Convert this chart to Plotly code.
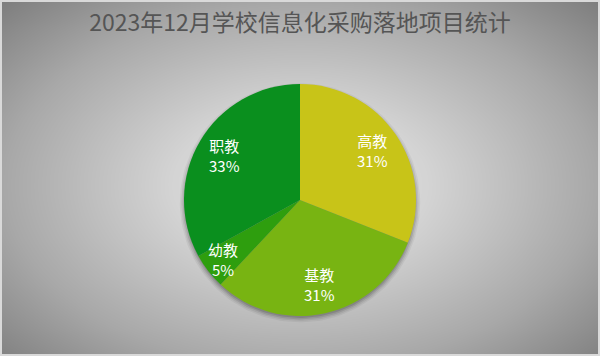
import numpy as np
import plotly.graph_objects as go

title = "2023年12月学校信息化采购落地项目统计"
labels = ["高教", "基教", "幼教", "职教"]
values = [31, 31, 5, 33]
colors = ["#c8c418", "#78b412", "#2e9e0e", "#0a8f1e"]

W, H = 600, 356
cx, cy, R = 300, 200, 116

# background radial gradient (decorative)
xs = np.linspace(0, W, 121)
ys = np.linspace(0, H, 73)
X, Y = np.meshgrid(xs, ys)
D = np.sqrt(((X - 300) / 300) ** 2 + ((Y - 185) / 185) ** 2) / np.sqrt(2)
D = np.clip(D, 0, 1)

fig = go.Figure()
fig.add_trace(go.Heatmap(
    x=xs, y=ys, z=D, zmin=0, zmax=1, zsmooth="best", showscale=False,
    colorscale=[[0, "#e2e2e2"], [0.3, "#d4d4d4"], [0.7, "#a8a8a8"], [1, "#7e7e7e"]],
    hoverinfo="skip"))

# soft shadow beneath the pie
th = np.linspace(0, 2 * np.pi, 200)
for k, a in [(5, 0.05), (3.5, 0.07), (2, 0.1), (0.5, 0.12)]:
    fig.add_trace(go.Scatter(
        x=cx + (R + k) * np.cos(th), y=cy + 3 + (R + k) * np.sin(th),
        fill="toself", fillcolor=f"rgba(0,0,0,{a})", line=dict(width=0),
        mode="lines", hoverinfo="skip", showlegend=False))

dom_h = R / H
yc = (H - cy) / H
fig.add_trace(go.Pie(
    labels=labels, values=values, sort=False, direction="clockwise", rotation=0,
    marker=dict(colors=colors, line=dict(width=0)),
    textinfo="none",
    domain=dict(x=[0, 1], y=[yc - dom_h, yc + dom_h]),
    showlegend=False, hoverinfo="label+percent"))

# slice labels placed at each slice's mid-angle
total = sum(values)
cum = 0
for lab, v in zip(labels, values):
    mid = (cum + v / 2) / total * 2 * np.pi
    cum += v
    frac = v / total
    r = R * (0.85 if frac < 0.1 else 0.76)
    px = cx + r * np.sin(mid)
    py = cy - r * np.cos(mid)
    fig.add_annotation(
        x=px, y=py, xref="x", yref="y", showarrow=False,
        text=f"{lab}<br>{round(frac * 100)}%",
        font=dict(color="white", size=15, family="Noto Sans CJK SC"),
        align="center")

fig.update_layout(
    width=W, height=H, margin=dict(l=0, r=0, t=0, b=0),
    paper_bgcolor="#d9d9d9", plot_bgcolor="#d9d9d9",
    xaxis=dict(range=[0, W], visible=False, domain=[2 / W, 1 - 2 / W]),
    yaxis=dict(range=[H, 0], visible=False, domain=[2 / H, 1 - 2 / H]),
    title=dict(text=title, x=0.5, xanchor="center", y=1 - 23 / H, yanchor="middle",
               font=dict(size=23, color="#555555", family="Noto Sans CJK SC")),
)
fig.write_html("out.html")
